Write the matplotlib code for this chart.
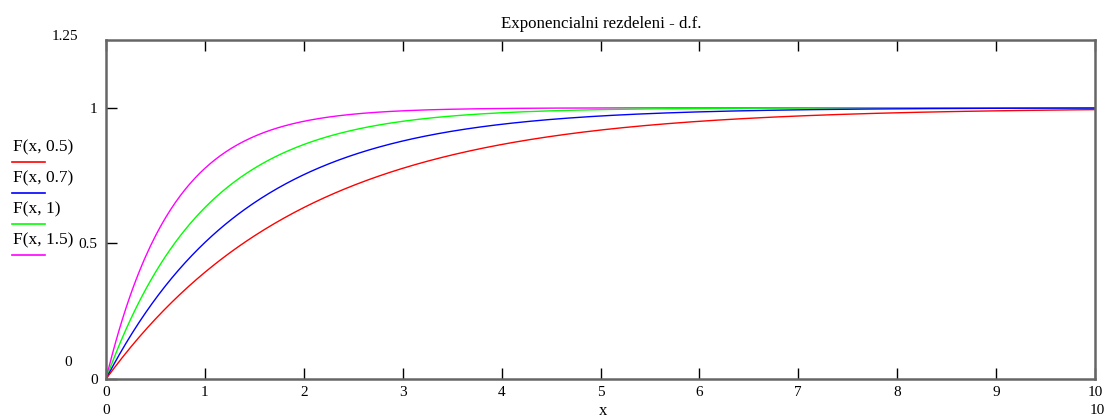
import numpy as np
import matplotlib
matplotlib.use('Agg')
import matplotlib.pyplot as plt
from matplotlib.lines import Line2D

plt.rcParams['font.family'] = ['Liberation Serif', 'DejaVu Serif']

# rate parameters of the plotted distribution functions F(x, lambda)
rates = [0.5, 0.7, 1, 1.5]
labels = ['F(x, 0.5)', 'F(x, 0.7)', 'F(x, 1)', 'F(x, 1.5)']
colors = ['#ff0000', '#0000ff', '#00ff00', '#ff00ff']
xticks = [0, 1, 2, 3, 4, 5, 6, 7, 8, 9, 10]
yticks = [0, 0.5, 1]
title = 'Exponencialni rezdeleni - d.f.'

W, H = 1106, 417
fig = plt.figure(figsize=(W / 100, H / 100), dpi=100)


def px(x, y):
    # pixel position (from top left) -> figure fraction
    return x / W, 1 - y / H


left, right, top, bottom = 106, 1095, 40, 379
ax = fig.add_axes([left / W, 1 - bottom / H, (right - left) / W, (bottom - top) / H])

x = np.linspace(0, 10, 600)
# red on top, magenta underneath
for lam, col in reversed(list(zip(rates, colors))):
    ax.plot(x, 1 - np.exp(-lam * x), color=col, lw=1.0)

ax.set_xlim(0, 10)
ax.set_ylim(0, 1.25)
ax.set_xticks(xticks)
ax.set_xticklabels([str(t) for t in xticks])
ax.set_yticks(yticks)
ax.set_yticklabels(['0', '0.5', '1'])
ax.tick_params(axis='both', direction='in', length=8, width=1, color='black',
               labelsize=11, top=True, pad=5)
ax.tick_params(axis='y', pad=6)
for s in ax.spines.values():
    s.set_color('#666666')
    s.set_linewidth(1.8)

fig.text(*px(601, 24), title, ha='center', va='center', fontsize=12.2)

# axis limits shown outside the frame
fig.text(*px(65, 37), '1.25', ha='center', va='center', fontsize=11)
fig.text(*px(68, 362), '0', ha='center', va='center', fontsize=11)
fig.text(*px(106, 410), '0', ha='center', va='center', fontsize=11)
fig.text(*px(1097, 410), '10', ha='center', va='center', fontsize=11)
fig.text(*px(603, 403), 'x', ha='center', va='top', fontsize=12)

# legend on the left
for i, (lab, col) in enumerate(zip(labels, colors)):
    ty = 147 + i * 31
    fig.text(*px(13, ty), lab, ha='left', va='center', fontsize=12.5)
    fig.add_artist(Line2D([12 / W, 45 / W], [1 - (ty + 15) / H] * 2,
                          color=col, lw=1.2, transform=fig.transFigure))

fig.savefig('out.png', dpi=100)
